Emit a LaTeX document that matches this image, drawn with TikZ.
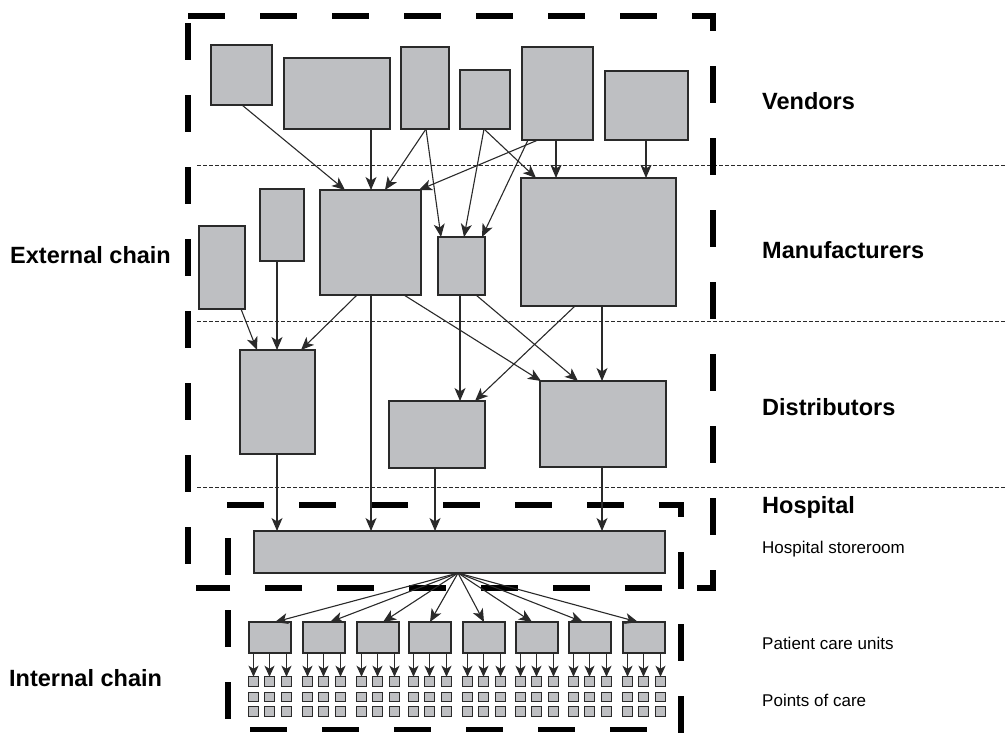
\documentclass[tikz,border=0pt]{standalone}
\usepackage{fontspec}
\setmainfont{Liberation Sans}
\usetikzlibrary{arrows.meta}
\definecolor{boxfill}{HTML}{BEBFC2}
\definecolor{ink}{HTML}{2A2A2A}
\begin{document}
\begin{tikzpicture}[x=1pt,y=-1pt,
  gbox/.style={draw=ink, fill=boxfill, line width=1.4pt, inner sep=0pt, outer sep=0pt, anchor=north west},
  arr/.style={draw=ink, line width=1.1pt, -{Stealth[length=13pt,width=11pt,inset=3.5pt]}},
  sarr/.style={draw=ink, line width=1.1pt, -{Stealth[length=11pt,width=10pt,inset=3pt]}},
  sepline/.style={draw=ink, line width=0.9pt, dash pattern=on 4pt off 2pt},
  chain/.style={draw=black, line width=5.5pt, dash pattern=on 37pt off 35pt},
  lblbig/.style={font=\fontsize{23.5}{26}\selectfont\bfseries, anchor=base west, inner sep=0pt},
  lblsmall/.style={font=\fontsize{17}{20}\selectfont, anchor=base west, inner sep=0pt}]
\useasboundingbox (0,0) rectangle (1006,732);

% level separators
\draw[sepline] (197,165) -- (1006,165);
\draw[sepline] (197,321) -- (1006,321);
\draw[sepline] (197,487) -- (1006,487);

% external chain frame
\draw[chain] (188,16) -- (715.75,16);
\draw[chain, dash phase=22pt] (713,16) -- (713,590.75);
\draw[chain, dash phase=21pt] (713,588) -- (196,588);
\draw[chain] (188,23) -- (188,564);

% internal chain frame
\draw[chain] (227,505) -- (683.75,505);
\draw[chain, dash phase=25pt] (681,505) -- (681,735);
\draw[chain, dash phase=50pt] (228,729.5) -- (681,729.5);
\draw[chain, dash phase=39pt] (228,505) -- (228,729.5);

% vendors
\node[gbox, minimum width=61pt,  minimum height=60pt] (V1) at (211,45) {};
\node[gbox, minimum width=106pt, minimum height=71pt] (V2) at (284,58) {};
\node[gbox, minimum width=48pt,  minimum height=82pt] (V3) at (401,47) {};
\node[gbox, minimum width=50pt,  minimum height=59pt] (V4) at (460,70) {};
\node[gbox, minimum width=71pt,  minimum height=93pt] (V5) at (522,47) {};
\node[gbox, minimum width=83pt,  minimum height=69pt] (V6) at (605,71) {};

% manufacturers
\node[gbox, minimum width=46pt,  minimum height=83pt]  (M1) at (199,226) {};
\node[gbox, minimum width=44pt,  minimum height=72pt]  (M2) at (260,189) {};
\node[gbox, minimum width=101pt, minimum height=105pt] (M3) at (320,190) {};
\node[gbox, minimum width=47pt,  minimum height=58pt]  (M4) at (438,237) {};
\node[gbox, minimum width=155pt, minimum height=128pt] (M5) at (521,178) {};

% distributors
\node[gbox, minimum width=75pt,  minimum height=104pt] (D1) at (240,350) {};
\node[gbox, minimum width=96pt,  minimum height=67pt]  (D2) at (389,401) {};
\node[gbox, minimum width=126pt, minimum height=86pt]  (D3) at (540,381) {};

% storeroom
\node[gbox, minimum width=411pt, minimum height=42pt] (S) at (254,531) {};

% vendor -> manufacturer
\draw[arr] ([xshift=31pt]V1.south west) -- ([xshift=25pt]M3.north west);
\draw[arr] ([xshift=87pt]V2.south west) -- ([xshift=51pt]M3.north west);
\draw[arr] ([xshift=25pt]V3.south west) -- ([xshift=65pt]M3.north west);
\draw[arr] ([xshift=25pt]V3.south west) -- ([xshift=3pt]M4.north west);
\draw[arr] ([xshift=24pt]V4.south west) -- ([xshift=26pt]M4.north west);
\draw[arr] ([xshift=24pt]V4.south west) -- ([xshift=15pt]M5.north west);
\draw[arr] ([xshift=16pt]V5.south west) -- ([xshift=99pt]M3.north west);
\draw[arr] ([xshift=6pt]V5.south west) -- ([xshift=44pt]M4.north west);
\draw[arr] ([xshift=34pt]V5.south west) -- ([xshift=35pt]M5.north west);
\draw[arr] ([xshift=41pt]V6.south west) -- ([xshift=125pt]M5.north west);

% manufacturer -> distributor / storeroom
\draw[arr] ([xshift=42pt]M1.south west) -- ([xshift=17pt]D1.north west);
\draw[arr] ([xshift=17pt]M2.south west) -- ([xshift=37pt]D1.north west);
\draw[arr] ([xshift=37pt]M3.south west) -- ([xshift=61pt]D1.north west);
\draw[arr] ([xshift=51pt]M3.south west) -- ([xshift=117pt]S.north west);
\draw[arr] ([xshift=84pt]M3.south west) -- ([xshift=1pt]D3.north west);
\draw[arr] ([xshift=22pt]M4.south west) -- ([xshift=71pt]D2.north west);
\draw[arr] ([xshift=38pt]M4.south west) -- ([xshift=38pt]D3.north west);
\draw[arr] ([xshift=54pt]M5.south west) -- ([xshift=86pt]D2.north west);
\draw[arr] ([xshift=81pt]M5.south west) -- ([xshift=62pt]D3.north west);

% distributor -> storeroom
\draw[arr] ([xshift=37pt]D1.south west) -- ([xshift=23pt]S.north west);
\draw[arr] ([xshift=46pt]D2.south west) -- ([xshift=181pt]S.north west);
\draw[arr] ([xshift=62pt]D3.south west) -- ([xshift=348pt]S.north west);

% internal chain
\coordinate (F) at ([xshift=204pt]S.south west);
\foreach \i/\L/\t in {1/249/275, 2/303/330, 3/357/383, 4/409/430, 5/463/484, 6/516/532, 7/569/583, 8/623/638} {
  \node[gbox, minimum width=42pt, minimum height=31pt] (P\i) at (\L,622) {};
  \draw[arr] (F) -- ([xshift={(\t-\L)*1pt}]P\i.north west);
  \foreach \c [count=\ci] in {4.5,20.5,37.5} {
    \foreach \r [count=\ri] in {681.5,697,711.5} {
      \node[gbox, anchor=center, minimum size=9.5pt] (q\i\ci\ri) at (\L+\c,\r) {};
    }
    \draw[sarr] ([xshift=\c pt]P\i.south west) -- (q\i\ci1.north);
  }
}

% labels
\node[lblbig] (vend) at (762,109) {Vendors};
\node[lblbig] (manu) at (762,258) {Manufacturers};
\node[lblbig] (dist) at (762,415) {Distributors};
\node[lblbig] (hosp) at (762,513) {Hospital};
\node[lblsmall] (stor) at (762,553) {Hospital storeroom};
\node[lblsmall] (pcu) at (762,649) {Patient care units};
\node[lblsmall] (poc) at (762,706) {Points of care};
\node[lblbig] (ext) at (10,263) {External chain};
\node[lblbig] (int) at (9,686) {Internal chain};
\end{tikzpicture}
\end{document}
